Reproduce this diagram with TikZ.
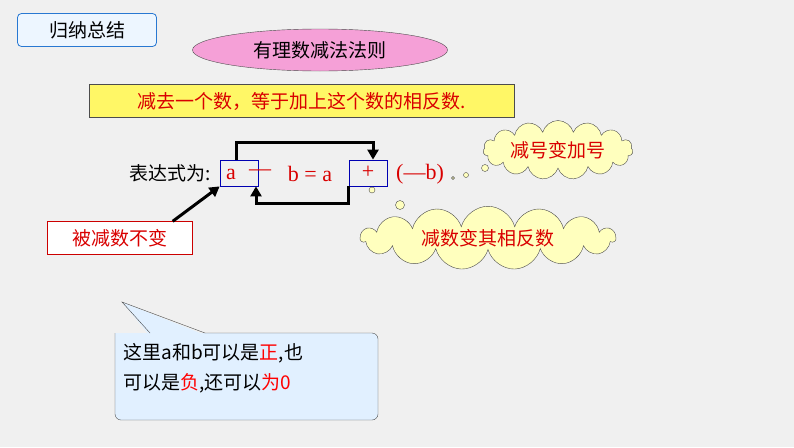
\documentclass[tikz,border=0pt]{standalone}
\usepackage{fontspec}
\setmainfont{Noto Sans CJK SC}
\newfontfamily\exprfont{Liberation Serif}
\usetikzlibrary{shapes.geometric,shapes.symbols,positioning,arrows.meta}
\definecolor{bgray}{RGB}{240,240,240}
\definecolor{pinkfill}{RGB}{245,160,215}
\definecolor{cloudfill}{RGB}{255,255,190}
\definecolor{callfill}{RGB}{225,240,255}
\definecolor{hdrblue}{RGB}{40,120,210}
\tikzset{
  txtred/.style={text=red!85!black},
  big/.style={font=\fontsize{19}{22}\selectfont},
  exprtxt/.style={txtred, font=\exprfont\fontsize{22}{24}\selectfont},
  cloudnode/.style={cloud, cloud puffs=15, draw=black!70, fill=cloudfill, txtred, big, inner sep=0pt},
  bubble/.style={circle, draw=black!70, fill=cloudfill, inner sep=0pt},
  termbox/.style={draw=blue!70!black, thick, minimum width=38, minimum height=26},
  turnarrow/.style={-{Triangle[length=10pt,width=11pt]}, line width=3pt}
}
\begin{document}
\begin{tikzpicture}[x=1pt,y=-1pt]
  \fill[bgray] (0,0) rectangle (794,447);
  % heading
  \node[draw=hdrblue, thick, rounded corners=4, fill=callfill!60, minimum width=139, minimum height=33, big] (title) at (87,30) {归纳总结};
  \node[ellipse, draw=black!70, fill=pinkfill, minimum width=255, minimum height=42, big] (rule) at (320,50) {有理数减法法则};
  \node[draw=black!70, fill=yellow!60, minimum width=425, minimum height=33, txtred, big] (statement) at (302,101) {减去一个数，等于加上这个数的相反数.};

  % expression
  \node[big, anchor=east] (expr) at (214,173) {表达式为:};
  \node[termbox] (abox) at (239,173) {};
  \node[termbox] (pbox) at (368,173) {};
  \node[exprtxt] (alab) at (231,174) {a};
  \node[exprtxt] (minus) at (260,173) {—};
  \node[exprtxt] (bla) at (310,174) {b = a};
  \node[exprtxt] (plus) at (368,172) {+};
  \node[exprtxt] (negb) at (420,174) {(—b)};
  \coordinate (topl) at (236,142);
  \coordinate (topr) at (373,142);
  \coordinate (botr) at (348,203);
  \coordinate (botl) at (256,203);
  \draw[turnarrow] (abox.north -| topl) -- (topl) -- (topr) -- (pbox.north -| topr);
  \draw[turnarrow] (pbox.south west -| botr) -- (botr) -- (botl) -- (abox.south -| botl);

  % keeps
  \node[draw=red!80!black, fill=white, minimum width=145, minimum height=33, txtred, big] (keep) at (120,238) {被减数不变};
  \draw[turnarrow] (keep.north east) ++(-20,0) -- (abox.south west);

  % clouds
  \node[cloudnode, minimum width=150, minimum height=44, aspect=3.5] (signcloud) at (558,150) {减号变加号};
  \node[bubble, minimum size=3] (s1) at (453,178) {};
  \node[bubble, minimum size=5] (s2) at (466,175) {};
  \node[bubble, minimum size=7] (s3) at (485,168) {};
  \node[cloudnode, minimum width=255, minimum height=48, aspect=5.5] (oppcloud) at (488,238) {减数变其相反数};
  \node[bubble, minimum size=6] (o1) at (372,190) {};
  \node[bubble, minimum size=9] (o2) at (400,205) {};

  % callout
  \filldraw[draw=black!70, fill=callfill, rounded corners=6] (115,333) -- (115,420) -- (378,420) -- (378,333) -- (205,333);
  \fill[callfill] (150,336) -- (122,302) -- (205,335) -- cycle;
  \draw[black!70] (150,333) -- (122,302) -- (205,333);
  \node[text width=245, align=left, anchor=north west, font=\fontsize{19}{30}\selectfont] (note) at (120,340)
    {这里a和b可以是{\color{red}正},也\\可以是{\color{red}负},还可以{\color{red}为0}};
\end{tikzpicture}
\end{document}
